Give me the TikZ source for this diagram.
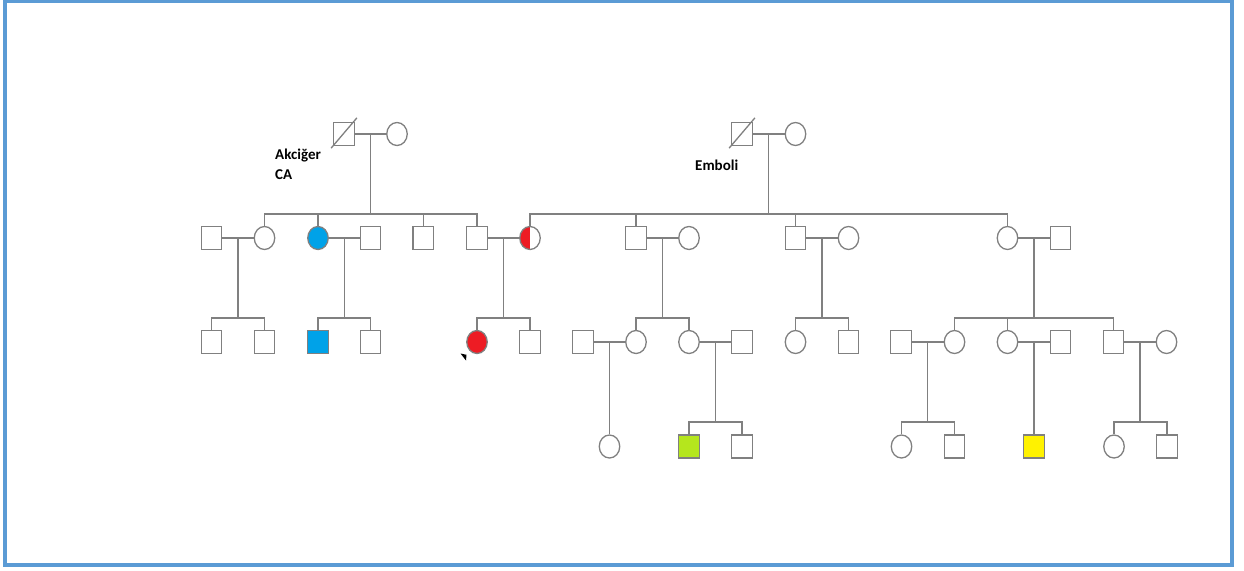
\documentclass[tikz,border=0pt]{standalone}
\usepackage{fontspec}
\setmainfont{Carlito}
\usetikzlibrary{shapes.geometric,calc}
\definecolor{lc}{RGB}{128,128,128}
\definecolor{bord}{RGB}{91,155,213}
\definecolor{pblue}{RGB}{0,162,232}
\definecolor{pred}{RGB}{237,28,36}
\definecolor{pgreen}{RGB}{181,230,29}
\definecolor{pyellow}{RGB}{255,242,0}
\newcommand\couple[3]{\draw[ln] (#1) -- (#2); \coordinate (#3m) at ($(#1.east)!.5!(#2.west)$);}
\newcommand\kids[2]{%
  \path (#1m) ++(0,80) coordinate (#1s);
  \draw[ln] (#1m) -- (#1s);
  \foreach \k in {#2} {\draw[ln] (#1s) -- (#1s -| \k) -- (\k.north);}
}
\newcommand\onekid[2]{\draw[ln] (#1m) -- (#1m |- #2.north);}
\begin{document}
\begin{tikzpicture}[x=1pt,y=-1pt,
  ln/.style={draw=lc,line width=1.3pt},
  male/.style={rectangle,draw=lc,line width=1.3pt,minimum width=20.5pt,minimum height=23pt,inner sep=0pt,fill=white},
  fem/.style={ellipse,draw=lc,line width=1.3pt,minimum width=20.5pt,minimum height=23pt,inner sep=0pt,fill=white},
  lbl/.style={font=\bfseries\fontsize{15}{18}\selectfont,inner sep=0pt,text=black}]
\useasboundingbox (0,0) rectangle (1244,570);
\draw[draw=bord,line width=4pt] (5,1) rectangle (1232,564.7);

% Generation I
\node[male] (L1) at (344,134) {};
\node[fem]  (L2) at (397,134) {};
\draw[ln] ([shift={(-2pt,-2pt)}]L1.south west) -- ([shift={(2pt,4pt)}]L1.north east);
\node[male] (R1) at (742,134) {};
\node[fem]  (R2) at (795.5,134) {};
\draw[ln] ([shift={(-2pt,-2pt)}]R1.south west) -- ([shift={(2pt,4pt)}]R1.north east);
\node[lbl,anchor=base west] (t1) at (275,159) {Akciğer};
\node[lbl,anchor=base west] (t2) at (275,179) {CA};
\node[lbl,anchor=base west] (t3) at (695,170) {Emboli};

% Generation II
\node[male] (A1) at (211.5,238) {};
\node[fem]  (A2) at (264.5,238) {};
\node[fem,fill=pblue] (B1) at (318,238) {};
\node[male] (B2) at (370.5,238) {};
\node[male] (C)  at (423.3,238) {};
\node[male] (D1) at (477,238) {};
\node[fem,path picture={\fill[pred] (path picture bounding box.south west) rectangle (path picture bounding box.north);}] (D2) at (530,238) {};
\node[male] (E1) at (636,238) {};
\node[fem]  (E2) at (689,238) {};
\node[male] (F1) at (795.5,238) {};
\node[fem]  (F2) at (848.5,238) {};
\node[fem]  (G1) at (1007.5,238) {};
\node[male] (G2) at (1060.5,238) {};

% Generation III
\node[male] (a1) at (211.5,342) {};
\node[male] (a2) at (264.5,342) {};
\node[male,fill=pblue] (b1) at (318,342) {};
\node[male] (b2) at (370.5,342) {};
\node[fem,fill=pred] (d1) at (477,342) {};
\node[male] (d2) at (530,342) {};
\node[male] (h1) at (583,342) {};
\node[fem]  (h2) at (636,342) {};
\node[fem]  (i1) at (689,342) {};
\node[male] (i2) at (742,342) {};
\node[fem]  (f1) at (795.5,342) {};
\node[male] (f2) at (848.5,342) {};
\node[male] (j1) at (901,342) {};
\node[fem]  (j2) at (954.5,342) {};
\node[fem]  (k1) at (1007.5,342) {};
\node[male] (k2) at (1060.5,342) {};
\node[male] (l1) at (1113.5,342) {};
\node[fem]  (l2) at (1166.5,342) {};
\fill[black] (460.5,353.5) -- (466.5,354.8) -- (466,360.5) -- cycle;

% couples
\couple{L1}{L2}{L}
\couple{R1}{R2}{R}
\couple{A1}{A2}{A}
\couple{B1}{B2}{B}
\couple{D1}{D2}{D}
\couple{E1}{E2}{E}
\couple{F1}{F2}{F}
\couple{G1}{G2}{G}
\couple{h1}{h2}{h}
\couple{i1}{i2}{i}
\couple{j1}{j2}{j}
\couple{k1}{k2}{k}
\couple{l1}{l2}{l}

% Generation IV
\coordinate (g4) at (0,446.5);
\node[fem]  (q1) at (hm |- g4) {};
\node[male,fill=pgreen] (n1) at (689,446.5) {};
\node[male] (n2) at (742,446.5) {};
\node[fem]  (o1) at (901.5,446.5) {};
\node[male] (o2) at (954.5,446.5) {};
\node[male,fill=pyellow] (p1) at (km |- g4) {};
\node[fem]  (r1) at (1114,446.5) {};
\node[male] (r2) at (1167,446.5) {};

% descent
\kids{L}{A2,B1,C,D1}
\kids{R}{D2,E1,F1,G1}
\kids{A}{a1,a2}
\kids{B}{b1,b2}
\kids{D}{d1,d2}
\kids{E}{h2,i1}
\kids{F}{f1,f2}
\kids{G}{j2,k1,l1}
\onekid{h}{q1}
\kids{i}{n1,n2}
\kids{j}{o1,o2}
\onekid{k}{p1}
\kids{l}{r1,r2}
\end{tikzpicture}
\end{document}
